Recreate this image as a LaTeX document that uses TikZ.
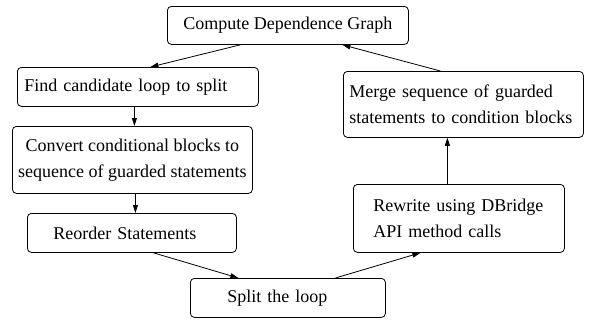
\documentclass[tikz,border=0pt]{standalone}
\usepackage{fontspec}
\setmainfont{Liberation Serif}
\usetikzlibrary{arrows.meta}
\begin{document}
\begin{tikzpicture}[x=1bp,y=-1bp,
  box/.style={draw, rounded corners=4bp, line width=0.8bp, anchor=north west,
    inner ysep=0pt, font=\fontsize{18bp}{26bp}\selectfont},
  arr/.style={-{Triangle[length=8bp,width=5bp]}, line width=0.8bp}]
\useasboundingbox (0,0) rectangle (589,320);

\node[box, minimum height=38bp, inner xsep=0bp, minimum width=241bp, align=center] (comp) at (167,6) {Compute Dependence Graph};
\node[box, minimum height=39bp, inner xsep=7bp, text width=227bp, align=left] (find) at (17,67) {Find candidate loop to split};
\node[box, minimum height=67bp, inner xsep=0bp, minimum width=240bp, align=center] (conv) at (12,126) {Convert conditional blocks to\\sequence of guarded statements};
\node[box, minimum height=39bp, inner xsep=26bp, text width=157bp, align=left] (reord) at (27,213) {Reorder Statements};
\node[box, minimum height=39bp, inner xsep=37bp, text width=121bp, align=left] (split) at (190,278) {Split the loop};
\node[box, minimum height=68bp, inner xsep=20bp, text width=171bp, align=left] (rew) at (353,184) {\mbox{Rewrite using DBridge}\\API method calls};
\node[box, minimum height=66bp, inner xsep=6bp, text width=228bp, align=left] (merge) at (343,71) {Merge sequence of guarded\\\mbox{statements to condition blocks}};

\draw[arr] ([xshift=-47.5bp]comp.south) -- ([xshift=12.5bp]find.north);
\draw[arr] ([xshift=-3.5bp]find.south) -- ([xshift=2bp]conv.north);
\draw[arr] ([xshift=3bp]conv.south) -- ([xshift=3.5bp]reord.north);
\draw[arr] ([xshift=21.5bp]reord.south) -- ([xshift=-49.5bp]split.north);
\draw[arr] ([xshift=47.5bp]split.north) -- ([xshift=-38.5bp]rew.south);
\draw[arr] ([xshift=-11.5bp]rew.north) -- ([xshift=-16bp]merge.south);
\draw[arr] ([xshift=-23bp]merge.north) -- ([xshift=54.5bp]comp.south);
\end{tikzpicture}
\end{document}
